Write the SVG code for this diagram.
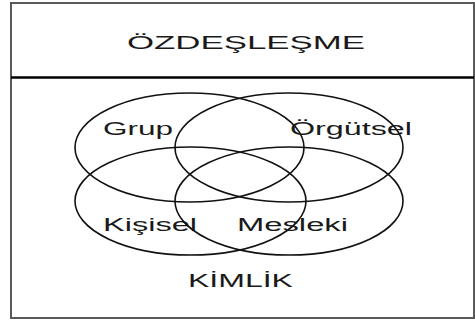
<svg xmlns="http://www.w3.org/2000/svg" width="475" height="322" viewBox="0 0 475 322">
<style>
.frame{fill:#fff;stroke:#5a5a5a;stroke-width:2}
.div{stroke:#000;stroke-width:2.5}
.ell{fill:none;stroke:#111;stroke-width:1.6}
.t{font-family:"Liberation Sans",Arial,sans-serif;font-size:18px;fill:#1a1a1a}
</style>
<rect width="475" height="322" fill="#fff"/>
<g id="frame">
<rect class="frame" x="11" y="3" width="463" height="315"/>
<line class="div" x1="11" y1="77.5" x2="474" y2="77.5"/>
</g>
<g id="title"><text class="t" x="127" y="48.5" textLength="238" lengthAdjust="spacingAndGlyphs">ÖZDEŞLEŞME</text></g>
<g id="grup"><ellipse class="ell" cx="189.5" cy="147.5" rx="114.5" ry="54.5"/><text class="t" x="103" y="135" textLength="70" lengthAdjust="spacingAndGlyphs">Grup</text></g>
<g id="orgutsel"><ellipse class="ell" cx="289" cy="147.5" rx="114" ry="54.5"/><text class="t" x="290" y="134.5" textLength="122" lengthAdjust="spacingAndGlyphs">Örgütsel</text></g>
<g id="kisisel"><ellipse class="ell" cx="190.5" cy="201" rx="115.5" ry="54"/><text class="t" x="103" y="231" textLength="94" lengthAdjust="spacingAndGlyphs">Kişisel</text></g>
<g id="mesleki"><ellipse class="ell" cx="289" cy="201" rx="114" ry="54"/><text class="t" x="237" y="231" textLength="111" lengthAdjust="spacingAndGlyphs">Mesleki</text></g>
<g id="kimlik"><text class="t" x="188" y="287" textLength="105" lengthAdjust="spacingAndGlyphs">KİMLİK</text></g>
<g id="connectors"></g>
</svg>
